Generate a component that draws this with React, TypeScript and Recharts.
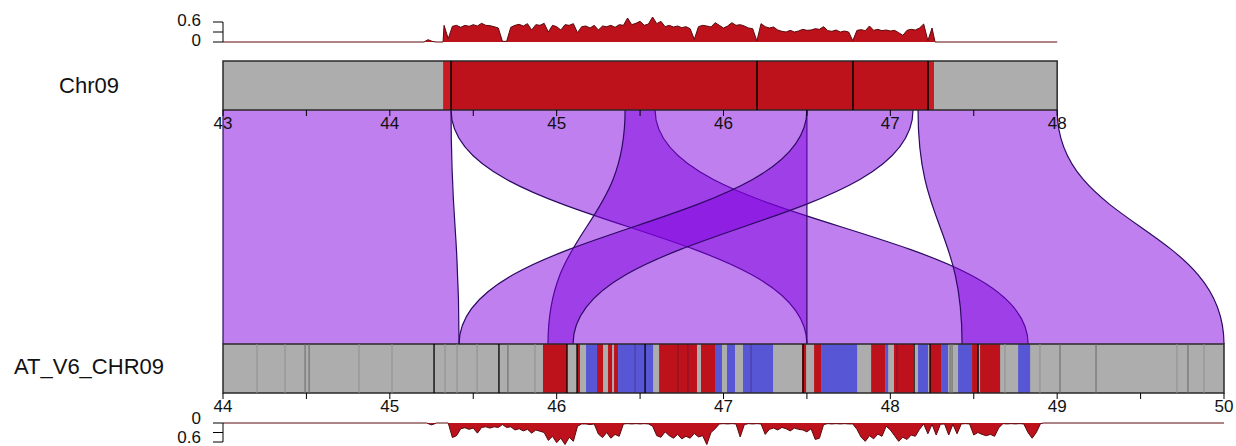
import React from 'react'
import { ComposedChart, Area, XAxis, YAxis, ReferenceArea, ReferenceLine } from 'recharts'

const W = 1236
const H = 446
const PLOT_LEFT = 223
const PLOT_RIGHT = 12
const AXIS_H = 30
const FONT = '"Liberation Sans", Arial, Helvetica, sans-serif'

const GREY = '#adadad'
const RED = '#bd111b'
const RED_EDGE = '#c81c22'
const BLUE = '#5757d6'
const RIBBON_FILL = '#8000e0'
const RIBBON_LINE = '#2c0a62'
const DENS_LINE = '#5a0b0e'

// both tracks share Mb/px: Chr09 is laid out on 43..49, AT_V6_CHR09 on 44..50
const TOP_DOMAIN = [43, 49]
const TOP_END = 48
const BOT_DOMAIN = [44, 50]
const BOT_END = 50
const BOT_SHIFT = BOT_DOMAIN[0] - TOP_DOMAIN[0]

const topTicks = [43, 43.5, 44, 44.5, 45, 45.5, 46, 46.5, 47, 47.5, 48]
const botTicks = [44, 44.5, 45, 45.5, 46, 46.5, 47, 47.5, 48, 48.5, 49, 49.5, 50]
const densTicks = [0, 0.3, 0.6]

// Chr09 blocks
const topSegments = [
  { from: 43, to: 44.319, color: GREY },
  { from: 44.319, to: 44.367, color: RED_EDGE },
  { from: 44.367, to: 47.226, color: RED },
  { from: 47.226, to: 47.262, color: RED_EDGE },
  { from: 47.262, to: 48, color: GREY },
]
const topMarks = [
  { at: 44.367, color: '#000' },
  { at: 46.201, color: '#000' },
  { at: 46.776, color: '#000' },
  { at: 47.226, color: '#000' },
]

// AT_V6_CHR09 blocks (red = same strand, blue = inverted)
const botStripes: [number, number, string][] = [
  [45.918, 46.062, 'r'], [46.122, 46.14, 'r'], [46.176, 46.242, 'b'], [46.242, 46.278, 'r'],
  [46.308, 46.332, 'r'], [46.344, 46.368, 'r'], [46.368, 46.578, 'b'], [46.614, 46.841, 'r'],
  [46.865, 46.949, 'r'], [46.949, 46.991, 'b'], [47.021, 47.069, 'b'], [47.117, 47.297, 'b'],
  [47.471, 47.495, 'r'], [47.543, 47.585, 'r'], [47.585, 47.801, 'b'], [47.885, 47.969, 'r'],
  [47.969, 47.987, 'b'], [48.022, 48.136, 'r'], [48.166, 48.226, 'b'], [48.238, 48.304, 'r'],
  [48.304, 48.346, 'b'], [48.406, 48.49, 'b'], [48.49, 48.526, 'r'], [48.538, 48.658, 'r'],
  [48.766, 48.838, 'b'],
]
const botLight = [44.204, 44.372, 44.815, 45.013, 45.331, 45.403, 45.523, 45.87, 48.687, 48.897, 49.718, 49.88]
const botDark = [44.492, 44.516, 45.708, 48.358, 48.37, 49.017, 49.233, 49.784]
const botInner = [46.47, 46.727, 46.787, 47.165, 48.04]
const botBlack = [45.265, 45.654, 46.062, 46.122, 46.53, 47.477, 48.142, 48.238, 48.526]

// syntenic blocks: [start, end] on Chr09 and on AT_V6_CHR09
const ribbonTop = [[43, 44.367], [44.367, 45.59], [45.41, 46.5], [46.5, 47.136], [47.166, 48]]
const ribbonBottom = [[44, 45.415], [47.5, 48.826], [45.948, 47.5], [45.415, 46.098], [48.43, 50]]

// density in 25 kb windows
const topDensStart = 44.325
const botDensStart = 45.35
const densStep = 0.025
const topDensValues = [
  0.50, 0.10, 0.47, 0.50, 0.44, 0.50, 0.47, 0.52, 0.48, 0.56,
  0.50, 0.49, 0.46, 0.42, 0.02, 0.02, 0.44, 0.50, 0.53, 0.48,
  0.55, 0.36, 0.52, 0.50, 0.56, 0.30, 0.50, 0.46, 0.36, 0.52,
  0.50, 0.55, 0.28, 0.46, 0.48, 0.42, 0.50, 0.36, 0.48, 0.46,
  0.50, 0.44, 0.52, 0.50, 0.72, 0.52, 0.56, 0.62, 0.50, 0.54,
  0.75, 0.55, 0.62, 0.46, 0.50, 0.45, 0.48, 0.43, 0.46, 0.40,
  0.08, 0.46, 0.50, 0.48, 0.45, 0.58, 0.50, 0.42, 0.48, 0.58,
  0.50, 0.52, 0.48, 0.42, 0.40, 0.03, 0.55, 0.46, 0.42, 0.45,
  0.36, 0.32, 0.30, 0.35, 0.30, 0.33, 0.38, 0.35, 0.36, 0.40,
  0.38, 0.46, 0.34, 0.32, 0.36, 0.30, 0.33, 0.30, 0.04, 0.35,
  0.37, 0.34, 0.48, 0.35, 0.38, 0.34, 0.36, 0.33, 0.35, 0.28,
  0.20, 0.35, 0.38, 0.36, 0.42, 0.54, 0.04, 0.42,
]
const topDensLead = [[43, 0], [44.205, 0], [44.229, 0.07], [44.253, 0.02], [44.277, 0], [44.319, 0]]
const topDensTail = [[47.268, 0], [48, 0]]

const botDensValues = [
  0.00, 0.46, 0.40, 0.18, 0.15, 0.20, 0.16, 0.32, 0.14, 0.12,
  0.16, 0.12, 0.14, 0.05, 0.14, 0.12, 0.22, 0.18, 0.25, 0.20,
  0.32, 0.22, 0.26, 0.30, 0.55, 0.42, 0.62, 0.48, 0.68, 0.45,
  0.58, 0.10, 0.03, 0.03, 0.05, 0.03, 0.35, 0.46, 0.30, 0.48,
  0.36, 0.42, 0.03, 0.02, 0.03, 0.02, 0.03, 0.02, 0.03, 0.10,
  0.40, 0.45, 0.28, 0.40, 0.48, 0.36, 0.50, 0.42, 0.48, 0.33,
  0.44, 0.40, 0.68, 0.30, 0.18, 0.03, 0.02, 0.03, 0.02, 0.03,
  0.44, 0.05, 0.02, 0.03, 0.02, 0.03, 0.36, 0.20, 0.16, 0.22,
  0.14, 0.18, 0.25, 0.16, 0.20, 0.22, 0.28, 0.18, 0.52, 0.48,
  0.05, 0.02, 0.03, 0.02, 0.03, 0.02, 0.03, 0.03, 0.20, 0.45,
  0.58, 0.40, 0.50, 0.35, 0.42, 0.10, 0.22, 0.40, 0.58, 0.45,
  0.52, 0.38, 0.42, 0.20, 0.03, 0.34, 0.04, 0.38, 0.04, 0.03,
  0.38, 0.04, 0.34, 0.03, 0.02, 0.03, 0.38, 0.30, 0.36, 0.40,
  0.36, 0.42, 0.15, 0.02, 0.03, 0.02, 0.03, 0.02, 0.03, 0.30,
  0.48, 0.30, 0.02,
]
const botDensLead = [[44, 0], [45.22, 0], [45.25, 0.06], [45.28, 0], [45.33, 0]]
const botDensTail = [[48.92, 0], [50, 0]]

function densityRows(lead: number[][], start: number, values: number[], tail: number[][]) {
  return [
    ...lead.map(([pos, v]) => ({ pos, v })),
    ...values.map((v, i) => ({ pos: +(start + i * densStep).toFixed(3), v })),
    ...tail.map(([pos, v]) => ({ pos, v })),
  ]
}
const topDensRows = densityRows(topDensLead, topDensStart, topDensValues, topDensTail)
const botDensRows = densityRows(botDensLead, botDensStart, botDensValues, botDensTail)

// pos 0 = Chr09 edge (top), pos 1 = AT_V6_CHR09 edge; x in Chr09 coordinates
const ribbonRows = [
  Object.fromEntries([['pos', 0], ...ribbonTop.map((r, i) => [`r${i}`, r])]),
  Object.fromEntries([['pos', 1], ...ribbonBottom.map((r, i) => [`r${i}`, [r[0] - BOT_SHIFT, r[1] - BOT_SHIFT]])]),
]

const layer: React.CSSProperties = { position: 'absolute', left: 0, top: 0 }

function MbTick(props: any) {
  const { x, y, payload } = props
  if (!Number.isInteger(payload.value)) return <g />
  return (
    <text x={x} y={y} dy="0.71em" textAnchor="middle" fontSize={17} fill="#111">
      {payload.value}
    </text>
  )
}

function DensTick(props: any) {
  const { x, y, payload, dyText } = props
  if (payload.value === 0.3) return <g />
  return (
    <text x={x} y={y} dy={dyText} textAnchor="end" fontSize={17} fill="#111">
      {payload.value}
    </text>
  )
}

function ChromTrack({ domain, end, ticks, top, bottom, children }: any) {
  return (
    <div style={layer}>
      <ComposedChart
        width={W}
        height={H}
        data={[{ x: domain[0], y: 0 }, { x: end, y: 1 }]}
        margin={{ top, bottom: H - bottom - AXIS_H, left: PLOT_LEFT, right: PLOT_RIGHT }}
      >
        <XAxis
          type="number"
          dataKey="x"
          domain={domain}
          ticks={ticks}
          interval={0}
          height={AXIS_H}
          axisLine={false}
          stroke="#000"
          tickSize={6}
          tickMargin={1}
          tick={(p: any) => <MbTick {...p} />}
        />
        <YAxis type="number" dataKey="y" domain={[0, 1]} hide />
        {children}
        <ReferenceArea x1={domain[0]} x2={end} y1={0} y2={1} fill="none" stroke="#2a2a2a" strokeWidth={1.5} ifOverflow="visible" />
      </ComposedChart>
    </div>
  )
}

function DensityTrack({ rows, domain, top, plotH, reversed }: any) {
  const h = top + plotH + 10
  return (
    <div style={layer}>
      <ComposedChart width={W} height={h} data={rows} margin={{ top, bottom: 10, left: PLOT_LEFT - 40, right: PLOT_RIGHT }}>
        <XAxis type="number" dataKey="pos" domain={domain} hide />
        <YAxis
          type="number"
          domain={[0, 0.9]}
          ticks={densTicks}
          interval={0}
          reversed={reversed}
          width={40}
          axisLine={false}
          stroke="#000"
          tickSize={10}
          tickMargin={12}
          tick={(p: any) => <DensTick {...p} dyText={reversed ? 1 : 4} />}
        />
        <Area type="linear" dataKey="v" fill={RED} fillOpacity={1} stroke={DENS_LINE} strokeWidth={1} dot={false} activeDot={false} isAnimationActive={false} />
        <ReferenceLine segment={[{ x: domain[0], y: 0 }, { x: domain[0], y: 0.6 }]} stroke="#000" strokeWidth={1} ifOverflow="visible" />
      </ComposedChart>
    </div>
  )
}

export default function App() {
  return (
    <div style={{ position: 'absolute', left: 0, top: 0, width: W, height: H, overflow: 'hidden', background: '#fff', fontFamily: FONT }}>
      {/* syntenic ribbons */}
      <div style={layer}>
        <ComposedChart layout="vertical" width={W} height={H} data={ribbonRows} margin={{ top: 110, bottom: H - 344, left: PLOT_LEFT, right: PLOT_RIGHT }}>
          <XAxis type="number" domain={TOP_DOMAIN} hide />
          <YAxis type="number" dataKey="pos" domain={[0, 1]} hide />
          {ribbonTop.map((_, i) => (
            <Area
              key={i}
              type="bumpY"
              dataKey={`r${i}`}
              fill={RIBBON_FILL}
              fillOpacity={0.5}
              stroke={RIBBON_LINE}
              strokeWidth={1.2}
              dot={false}
              activeDot={false}
              isAnimationActive={false}
            />
          ))}
        </ComposedChart>
      </div>

      <DensityTrack rows={topDensRows} domain={TOP_DOMAIN} top={12} plotH={30} reversed={false} />
      <DensityTrack rows={botDensRows} domain={BOT_DOMAIN} top={423} plotH={28.5} reversed />

      <ChromTrack domain={TOP_DOMAIN} end={TOP_END} ticks={topTicks} top={61} bottom={110}>
        {topSegments.map((s, i) => (
          <ReferenceArea key={i} x1={s.from} x2={s.to} y1={0} y2={1} fill={s.color} fillOpacity={1} stroke="none" />
        ))}
        {topMarks.map((m, i) => (
          <ReferenceLine key={i} x={m.at} stroke={m.color} strokeWidth={1.5} />
        ))}
      </ChromTrack>

      <ChromTrack domain={BOT_DOMAIN} end={BOT_END} ticks={botTicks} top={344} bottom={393}>
        <ReferenceArea x1={BOT_DOMAIN[0]} x2={BOT_END} y1={0} y2={1} fill={GREY} fillOpacity={1} stroke="none" />
        {botLight.map((v, i) => (
          <ReferenceLine key={`l${i}`} x={v} stroke="#8f8f8f" strokeWidth={1} />
        ))}
        {botDark.map((v, i) => (
          <ReferenceLine key={`d${i}`} x={v} stroke="#666" strokeWidth={1} />
        ))}
        {botStripes.map(([a, b, k], i) => (
          <ReferenceArea key={`s${i}`} x1={a} x2={b} y1={0} y2={1} fill={k === 'r' ? RED : BLUE} fillOpacity={1} stroke="none" />
        ))}
        {botInner.map((v, i) => (
          <ReferenceLine key={`i${i}`} x={v} stroke="#40104a" strokeOpacity={0.45} strokeWidth={1} />
        ))}
        {botBlack.map((v, i) => (
          <ReferenceLine key={`k${i}`} x={v} stroke="#000" strokeWidth={1.3} />
        ))}
      </ChromTrack>

      <div style={{ position: 'absolute', left: 0, width: 178, top: 73, textAlign: 'center', fontSize: 22, color: '#111' }}>Chr09</div>
      <div style={{ position: 'absolute', left: 0, width: 178, top: 354, textAlign: 'center', fontSize: 22, color: '#111' }}>AT_V6_CHR09</div>
    </div>
  )
}
